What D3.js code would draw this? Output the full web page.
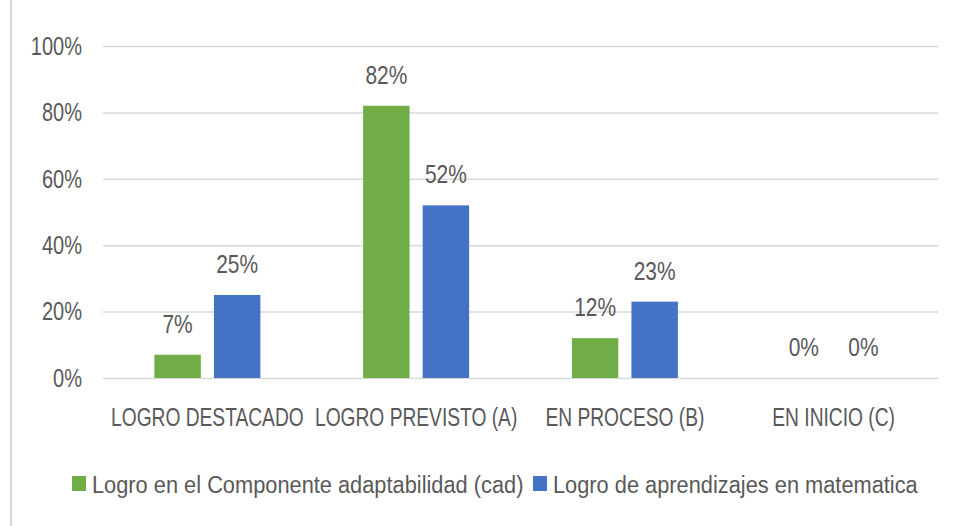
<!DOCTYPE html>
<html>
<head>
<meta charset="utf-8">
<script src="https://cdn.jsdelivr.net/npm/d3@7"></script>
<style>
  body { margin: 0; background: #fff; }
  svg text { font-family: "Liberation Sans", Arial, sans-serif; fill: #595959; }
</style>
</head>
<body>
<svg id="chart" width="954" height="526"></svg>
<script>
var categories = ['LOGRO DESTACADO', 'LOGRO PREVISTO (A)', 'EN PROCESO (B)', 'EN INICIO (C)'];
var seriesNames = ['Logro en el Componente adaptabilidad (cad)', 'Logro de aprendizajes en matematica'];
var adaptabilidad = [0.07, 0.82, 0.12, 0];
var matematica = [0.25, 0.52, 0.23, 0];
var yTicks = [0, 0.2, 0.4, 0.6, 0.8, 1.0];
var colors = ['#70ad47', '#4472c4'];

var svg = d3.select('#chart');
var plotLeft = 103, plotRight = 938, plotTop = 46, plotBottom = 378;
var pct = d3.format('.0%');

// squeeze text horizontally (reference font is a tall narrow one)
function squeeze(sel, sx) {
  sel.each(function() {
    var t = d3.select(this);
    var x0 = +t.attr('x') || 0;
    t.attr('x', x0 / sx).attr('transform', 'scale(' + sx + ',1)');
  });
}

// left border line
svg.append('line')
  .attr('x1', 11).attr('x2', 11).attr('y1', 0).attr('y2', 526)
  .attr('stroke', '#d9d9d9').attr('stroke-width', 2);

var x = d3.scaleBand().domain(categories).range([plotLeft, plotRight]);
var xSeries = d3.scaleBand().domain([0, 1]).range([0, 106]).paddingInner(0.22);
var y = d3.scaleLinear().domain([0, 1]).range([plotBottom, plotTop]);

var yAxis = svg.append('g')
  .attr('transform', 'translate(' + plotLeft + ',0)')
  .call(d3.axisLeft(y).tickValues(yTicks).tickFormat(pct).tickSize(-(plotRight - plotLeft)).tickPadding(21));
yAxis.select('.domain').remove();
yAxis.selectAll('.tick line').attr('stroke', '#d9d9d9').attr('stroke-width', 1.5);
yAxis.selectAll('.tick text').attr('font-size', 26).attr('font-family', null).attr('fill', null);
squeeze(yAxis.selectAll('.tick text'), 0.77);

var xAxis = svg.append('g')
  .attr('transform', 'translate(0,' + plotBottom + ')')
  .call(d3.axisBottom(x).tickSize(0).tickPadding(29));
xAxis.select('.domain').remove();
xAxis.selectAll('.tick text').attr('font-size', 26.5).attr('dy', '0.7em').attr('font-family', null).attr('fill', null);
squeeze(xAxis.selectAll('.tick text'), 0.725);

var rows = categories.map(function(c, i) {
  return { cat: c, values: [adaptabilidad[i], matematica[i]] };
});

var groups = svg.selectAll('g.grp')
  .data(rows)
  .enter()
  .append('g')
  .attr('class', 'grp')
  .attr('transform', function(d) {
    return 'translate(' + (x(d.cat) + x.bandwidth() / 2 - 53) + ',0)';
  });

groups.selectAll('rect')
  .data(function(d) { return d.values; })
  .enter()
  .append('rect')
  .attr('x', function(d, i) { return xSeries(i); })
  .attr('width', xSeries.bandwidth())
  .attr('y', function(d) { return y(d); })
  .attr('height', function(d) { return plotBottom - y(d); })
  .attr('fill', function(d, i) { return colors[i]; });

var labels = groups.selectAll('text')
  .data(function(d) { return d.values; })
  .enter()
  .append('text')
  .attr('x', function(d, i) { return xSeries(i) + xSeries.bandwidth() / 2; })
  .attr('y', function(d) { return y(d) - 22; })
  .attr('text-anchor', 'middle')
  .attr('font-size', 26.5)
  .text(function(d) { return pct(d); });
squeeze(labels, 0.79);

// legend
var legend = svg.append('g').attr('transform', 'translate(0,476)');
var lx = [72, 533];
seriesNames.forEach(function(name, i) {
  legend.append('rect')
    .attr('x', lx[i]).attr('y', 0).attr('width', 14).attr('height', 15)
    .attr('fill', colors[i]);
  var t = legend.append('text')
    .attr('x', lx[i] + 20).attr('y', 17)
    .attr('font-size', 23.7)
    .text(name);
  squeeze(t, 0.92);
});
</script>
</body>
</html>
